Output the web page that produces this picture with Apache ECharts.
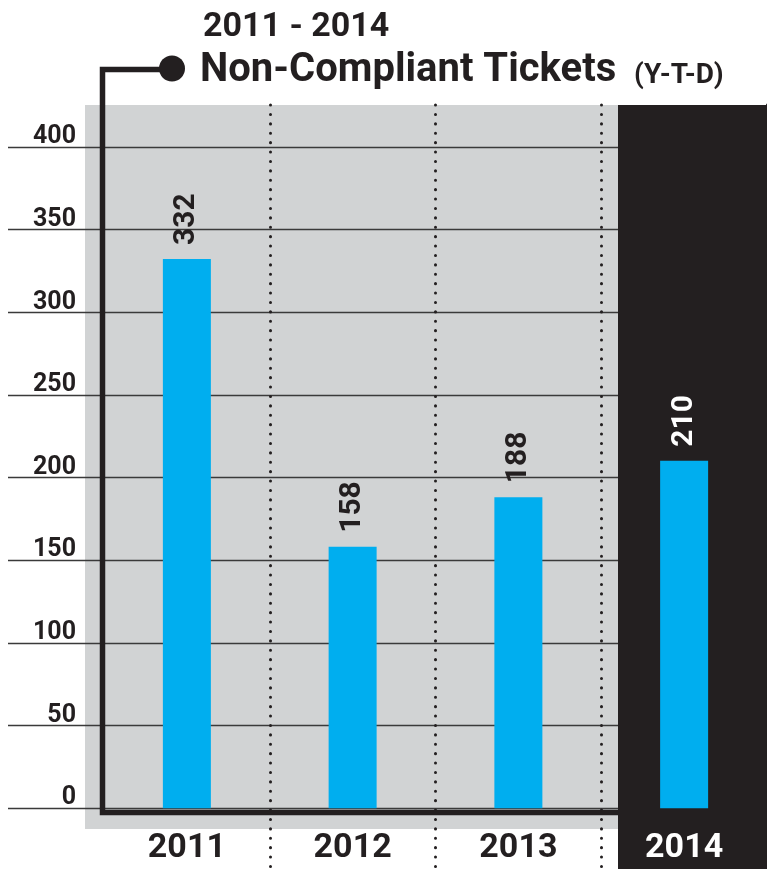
<!DOCTYPE html>
<html><head><meta charset="utf-8">
<script src="https://cdn.jsdelivr.net/npm/echarts@6/dist/echarts.min.js"></script>
<style>html,body{margin:0;padding:0;background:#fff}#c{width:767px;height:869px}</style>
</head><body><div id="c"></div>
<script>
const categories = ['2011', '2012', '2013', '2014'];
const tickets = [332, 158, 188, 210];
const titleYears = '2011 - 2014';
const titleMain = 'Non-Compliant Tickets';
const titleSuffix = '(Y-T-D)';
const highlightIndex = 3;

const DARK = '#231f20', GRAY = '#d1d3d4', BLUE = '#00aeef';
const numFont = 'Roboto, "Liberation Sans", sans-serif';
const chart = echarts.init(document.getElementById('c'));
chart.setOption({
  animation: false,
  backgroundColor: '#fff',
  title: [
    {text: titleYears, left: 203, top: 10, padding: 0,
     textStyle: {fontFamily: numFont, fontWeight: 'bold', fontSize: 34, color: DARK}},
    {text: titleMain, left: 200, top: 51, padding: 0,
     textStyle: {fontFamily: numFont, fontWeight: 'bold', fontSize: 40, color: DARK}},
    {text: titleSuffix, left: 634, top: 62, padding: 0,
     textStyle: {fontFamily: numFont, fontWeight: 'bold', fontSize: 28, color: DARK}}
  ],
  grid: [
    {left: 8, right: 0, top: 147, bottom: 61},
    {left: 104, right: -5, top: 105, bottom: 0}
  ],
  xAxis: [
    {gridIndex: 0, type: 'category', data: categories, show: false},
    {gridIndex: 1, type: 'category', data: categories, z: 5,
     axisLine: {show: false}, axisTick: {show: false},
     axisLabel: {inside: true, margin: 21, verticalAlign: 'middle', fontFamily: numFont,
                 fontWeight: 'bold', fontSize: 34,
                 color: function (v, i) { return i === highlightIndex ? '#ffffff' : DARK; }},
     splitLine: {show: true, interval: function (i) { return i > 0; },
                 lineStyle: {color: DARK, width: 3, type: [0.1, 9.3], cap: 'round'}}}
  ],
  yAxis: [
    {gridIndex: 0, type: 'value', min: 0, max: 400, interval: 50, z: 1,
     axisLine: {show: false}, axisTick: {show: false},
     axisLabel: {inside: true, margin: 68, align: 'right', verticalAlign: 'bottom', lineHeight: 20,
                 fontFamily: numFont, fontWeight: 'bold', fontSize: 25, color: DARK},
     splitLine: {show: true, lineStyle: {color: '#3a3a3a', width: 1.3}}},
    {gridIndex: 1, type: 'value', min: -36.7, max: 425, show: false, splitLine: {show: false}}
  ],
  graphic: [
    {type: 'rect', z: 0, shape: {x: 85, y: 105, width: 533, height: 724}, style: {fill: GRAY}},
    {type: 'rect', z: 4, shape: {x: 618, y: 105, width: 149, height: 764}, style: {fill: DARK}},
    {type: 'polyline', z: 6, shape: {points: [[618, 812.5], [102.5, 812.5], [102.5, 69.5], [165, 69.5]]},
     style: {stroke: DARK, lineWidth: 5.5, fill: null, lineJoin: 'miter'}},
    {type: 'circle', z: 6, shape: {cx: 172, cy: 68.5, r: 13}, style: {fill: DARK}}
  ],
  series: [{
    type: 'bar', xAxisIndex: 1, yAxisIndex: 1, z: 5, barWidth: 48,
    itemStyle: {color: BLUE},
    label: {show: true, position: 'top', rotate: 90, align: 'left', verticalAlign: 'middle',
            distance: 14, fontFamily: numFont, fontWeight: 'bold', fontSize: 30},
    data: tickets.map(function (v, i) {
      return {value: v, label: {color: i === highlightIndex ? '#ffffff' : DARK}};
    })
  }]
});
</script></body></html>
